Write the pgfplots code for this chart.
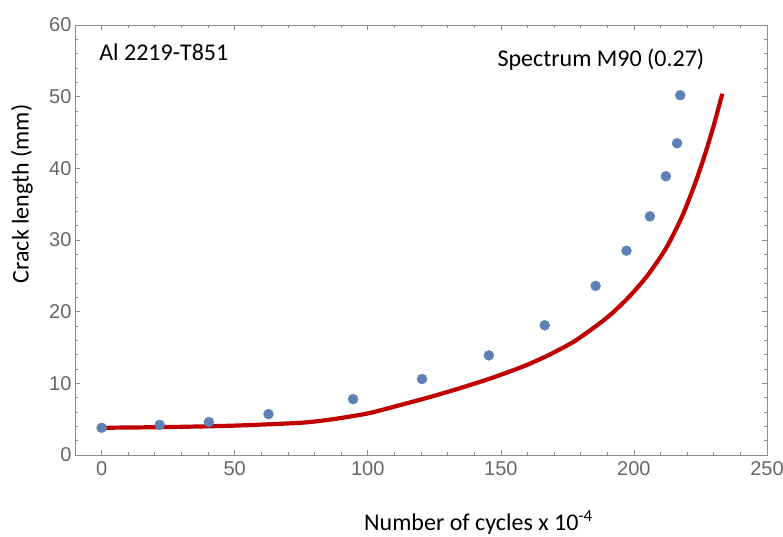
\documentclass[border=0pt]{standalone}
\usepackage{pgfplots}
\pgfplotsset{compat=1.18}
\usepackage{fontspec}
\setmainfont{Carlito}
\newfontfamily\tickfont{Liberation Sans}
\definecolor{ptblue}{HTML}{5E81B5}
\definecolor{curvered}{HTML}{C00000}
\definecolor{axgray}{HTML}{8C8C8C}
\definecolor{tickgray}{HTML}{666666}
\begin{document}
\begin{tikzpicture}
\path[use as bounding box] (-75pt,-81pt) rectangle (708pt,455pt);
\begin{axis}[
  scale only axis,
  width=692pt, height=430pt,
  xmin=-10, xmax=250, ymin=0, ymax=60,
  xtick={0,50,...,250}, ytick={0,10,...,60},
  minor tick num=4,
  major tick length=5pt, minor tick length=3pt,
  axis line style={axgray, line width=0.9pt},
  every tick/.style={axgray, line width=0.7pt},
  /pgf/number format/assume math mode=true,
  tick label style={font=\tickfont\fontsize{20}{20}\selectfont, text=tickgray},
  xticklabel style={yshift=-3pt},
  yticklabel style={xshift=0pt},
  xlabel={Number of cycles x 10\textsuperscript{-4}},
  ylabel={Crack length (mm)},
  label style={font=\fontsize{24}{26}\selectfont},
  xlabel style={at={(axis description cs:0.583,-0.158)}, anchor=center},
  ylabel style={at={(axis description cs:-0.0766,0.607)}, anchor=center, rotate=0},
  clip=false,
]
\addplot[curvered, line width=4.2pt, smooth, tension=0.4] coordinates {
(0,3.8) (25,3.9) (50,4.1) (75,4.5) (87,5.0) (100,5.8) (111,6.85) (123,8.05)
(134,9.25) (145,10.55) (153,11.6) (160,12.6) (168,13.95) (178,15.95) (190,19.2)
(198,22.0) (205,25.0) (212,28.8) (218,33.2) (223,37.9) (227,42.3) (230,46.0) (233.2,50.4)
};
\addplot[only marks, mark=*, mark size=5pt, mark options={fill=ptblue, draw=ptblue}] coordinates {
(0,3.8) (21.8,4.2) (40.3,4.6) (62.7,5.7) (94.5,7.8) (120.4,10.6) (145.5,13.9)
(166.5,18.1) (185.6,23.6) (197.2,28.5) (206,33.3) (212,38.9) (216.2,43.5) (217.4,50.2)
};
\node[anchor=west, font=\fontsize{24}{26}\selectfont] at (axis description cs:0.030,0.937) {Al 2219-T851};
\node[anchor=west, font=\fontsize{24}{26}\selectfont] at (axis description cs:0.6055,0.919) {Spectrum M90 (0.27)};
\end{axis}
\end{tikzpicture}
\end{document}
